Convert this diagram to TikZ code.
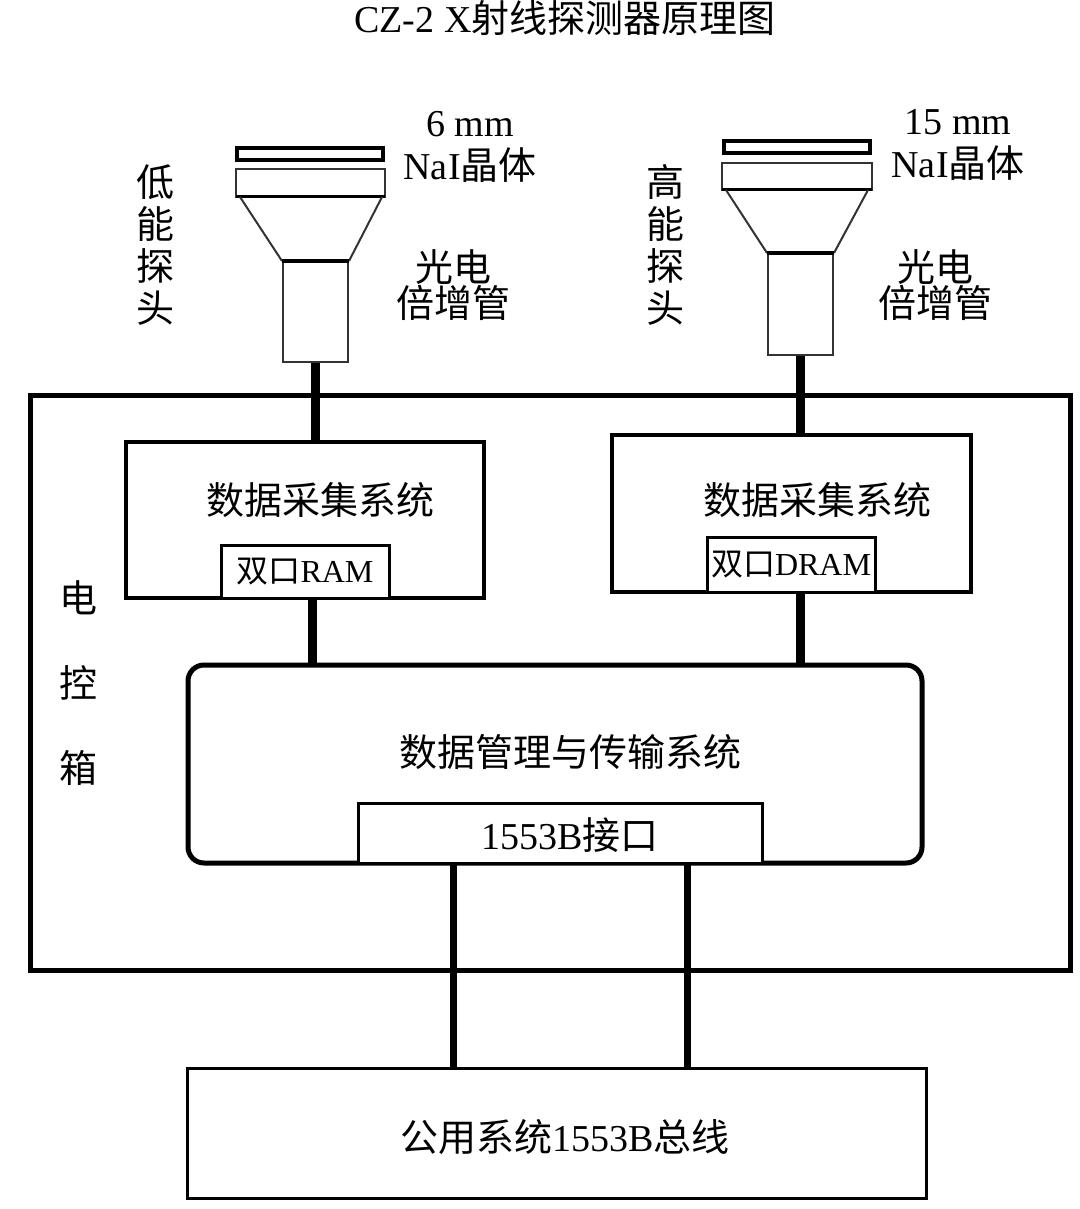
\documentclass[tikz,border=0pt]{standalone}
\usepackage{fontspec}
\setmainfont{Liberation Serif}
\newfontfamily\cjkfont{Noto Sans CJK SC}
\newcommand{\zh}[1]{{\cjkfont #1}}

\begin{document}
\begin{tikzpicture}[x=0.5pt,y=-0.5pt,
	txt/.style={inner sep=0pt,align=center,font=\fontsize{19pt}{20pt}\selectfont},
	small/.style={inner sep=0pt,font=\fontsize{16pt}{18pt}\selectfont},
	box/.style={draw,line width=1.75pt,inner sep=0pt,fill=white},
	part/.style={draw=black!80,line width=1pt},
	wire/.style={line width=4.5pt},
	buswire/.style={line width=3.5pt}]
	\useasboundingbox (0,0) rectangle (1080,1209);
	\node[txt] (title) at (565,18) {CZ-2 X\zh{射线探测器原理图}};
	\node[draw,line width=2.5pt,minimum width=520pt,minimum height=287.5pt,inner sep=0pt] (ebox) at (550,682.5) {};
	\node[txt,font=\cjkfont\fontsize{19pt}{42.5pt}\selectfont] (eboxlbl) at (78,683) {电\\控\\箱};
	\node[part,inner sep=0pt,minimum width=32.5pt,minimum height=50pt] (pmtL) at (315.5,312) {};
	\draw[line width=2pt] (237,148) rectangle (383,160);
	\draw[part] (236,169) rectangle (385,197);
	\draw[line width=1.5pt] (236,197) -- (385,197);
	\draw[part] (240,197) -- (pmtL.north west) (382,197) -- (pmtL.north east);
	\draw[line width=2pt] (pmtL.north west) -- (pmtL.north east);
	\node[part,inner sep=0pt,minimum width=32.5pt,minimum height=50.5pt] (pmtR) at (800.5,304.5) {};
	\draw[line width=2.2pt] (724,141) rectangle (870,153);
	\draw[part] (722,163) rectangle (872,190);
	\draw[line width=1.5pt] (722,190) -- (872,190);
	\draw[part] (726,190) -- (pmtR.north west) (868,190) -- (pmtR.north east);
	\draw[line width=2pt] (pmtR.north west) -- (pmtR.north east);
	\node[txt,font=\fontsize{19pt}{21.5pt}\selectfont] (xtalL) at (470,147) {6 mm\\Na\kern0.3pt I\zh{晶体}};
	\node[txt,font=\fontsize{19pt}{21.5pt}\selectfont] (xtalR) at (958,145) {15 mm\\Na\kern0.3pt I\zh{晶体}};
	\node[txt,font=\cjkfont\fontsize{19pt}{18pt}\selectfont] (pmtLlbl) at (453,285) {光电\\倍增管};
	\node[txt,font=\cjkfont\fontsize{19pt}{18pt}\selectfont] (pmtRlbl) at (935,285) {光电\\倍增管};
	\node[txt,font=\cjkfont\fontsize{19pt}{21pt}\selectfont] (probeL) at (155,245) {低\\能\\探\\头};
	\node[txt,font=\cjkfont\fontsize{19pt}{21pt}\selectfont] (probeR) at (665,245) {高\\能\\探\\头};
	\node[box,minimum width=179pt,minimum height=78pt] (daqL) at (305,520) {};
	\node[box,minimum width=179.5pt,minimum height=78.5pt] (daqR) at (791.5,513.5) {};
	\node[txt] (daqLlbl) at (320,500) {\zh{数据采集系统}};
	\node[txt] (daqRlbl) at (817,500) {\zh{数据采集系统}};
	\node[box,line width=1.5pt,minimum width=84pt,minimum height=26.5pt] (ramL) at (305,571.5) {};
	\node[small] at (ramL) {\zh{双口}RAM};
	\node[box,line width=1.5pt,minimum width=84pt,minimum height=27.5pt] (dramR) at (791,564.5) {};
	\node[small] at (dramR) {\zh{双口}DRAM};
	\node[box,line width=2.5pt,rounded corners=8pt,minimum width=367pt,minimum height=99pt] (mgmt) at (555,764) {};
	\node[txt] (mgmtlbl) at (570,752) {\zh{数据管理与传输系统}};
	\node[box,line width=1.5pt,minimum width=202pt,minimum height=30pt] (ifc) at (560,833) {};
	\node[txt] at (570,835) {1553B\zh{接口}};
	\node[box,line width=1.5pt,minimum width=369.5pt,minimum height=65pt] (bus) at (556.5,1133) {};
	\node[txt] (buslbl) at (565,1137) {\zh{公用系统}1553B\zh{总线}};
	\draw[wire] (pmtL.south) -- (pmtL.south |- daqL.north);
	\draw[wire] (pmtR.south) -- (pmtR.south |- daqR.north);
	\coordinate (ramout) at ([xshift=3.5pt]ramL.south);
	\draw[wire] (ramout) -- (ramout |- mgmt.north);
	\draw[wire] (dramR.south -| pmtR.south) -- (pmtR.south |- mgmt.north);
	\coordinate (busA) at ([xshift=-53.5pt]ifc.south);
	\coordinate (busB) at ([xshift=63.5pt]ifc.south);
	\draw[buswire] (busA) -- (busA |- bus.north);
	\draw[buswire] (busB) -- (busB |- bus.north);
\end{tikzpicture}
\end{document}
